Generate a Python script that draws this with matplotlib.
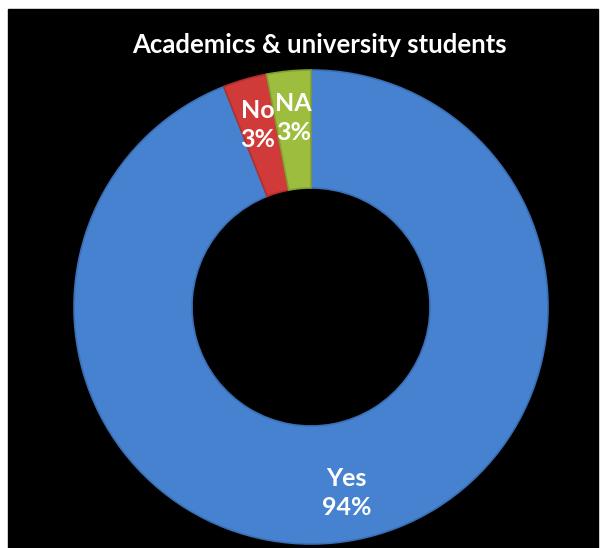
import matplotlib
matplotlib.use('Agg')
import matplotlib.pyplot as plt
from matplotlib.patches import Rectangle
import numpy as np

plt.rcParams['font.family'] = ['Lato', 'DejaVu Sans']

# data
labels = ['Yes', 'No', 'NA']
values = [94, 3, 3]
colors = ['#4682cf', '#d03b3a', '#9cbd3d']
edges = ['#3a6fb5', '#b32f2e', '#82a02f']

fig = plt.figure(figsize=(6, 5.48), dpi=100, facecolor='white')
ax = fig.add_axes([0, 0, 1, 1])

# black panel with white margin on top/left
ax.add_patch(Rectangle((8, 0), 590, 539, color='black', zorder=0))

wedges, _ = ax.pie(values, colors=colors, startangle=90, counterclock=False,
                   center=(311, 241), radius=237, frame=True,
                   wedgeprops=dict(width=118, linewidth=1.2))
for w, ec in zip(wedges, edges):
    w.set_edgecolor(ec)
ax.set_xlim(0, 600)
ax.set_ylim(0, 548)
ax.set_aspect('equal')
ax.axis('off')

for w, lab, v in zip(wedges, labels, values):
    ang = np.deg2rad((w.theta1 + w.theta2) / 2)
    r = 0.8 * w.r
    x = w.center[0] + r * np.cos(ang)
    y = w.center[1] + r * np.sin(ang)
    ax.text(x, y, f'{lab}\n{v}%', ha='center', va='center', color='white',
            fontsize=18, fontweight='bold', linespacing=1.3)

ax.text(319, 503, 'Academics & university students', ha='center', va='center',
        color='white', fontsize=18.5, fontweight='bold')

fig.savefig('out.png', dpi=100, facecolor='white')
